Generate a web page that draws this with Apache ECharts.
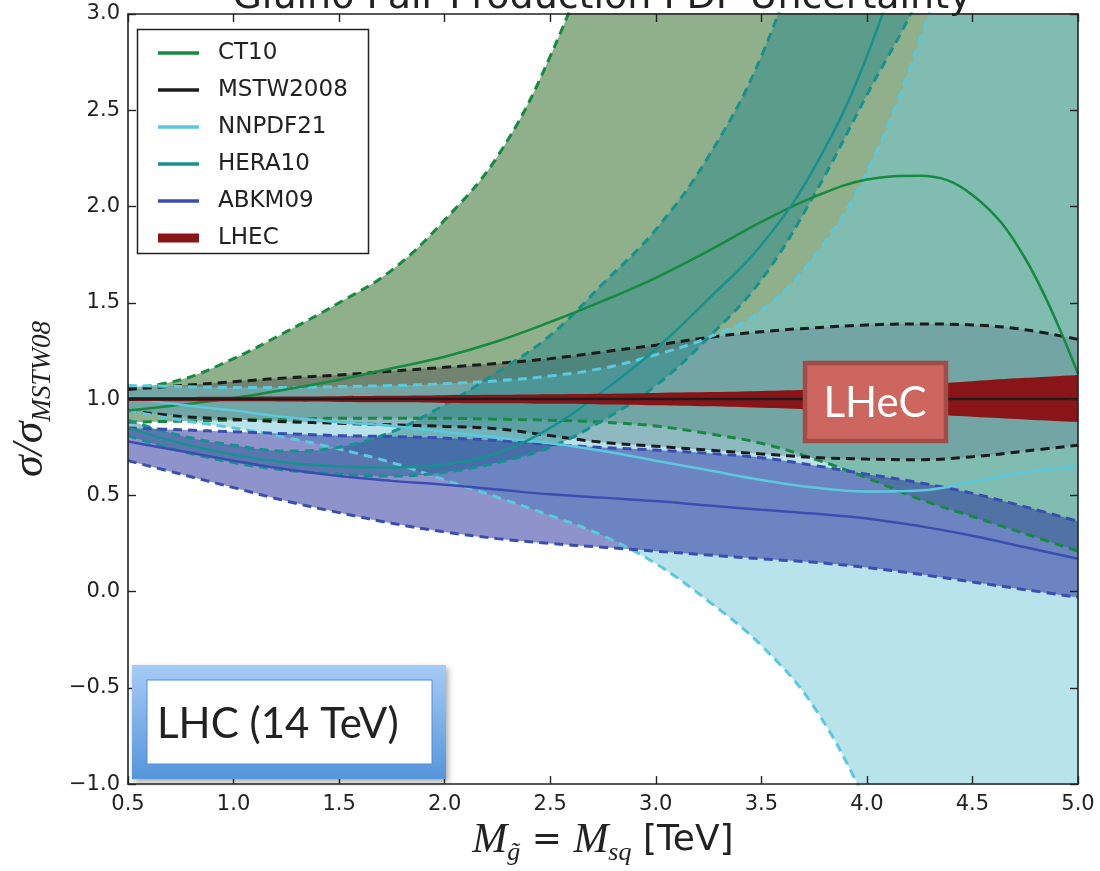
<!DOCTYPE html>
<html>
<head>
<meta charset="utf-8">
<script src="https://cdn.jsdelivr.net/npm/echarts@6/dist/echarts.min.js"></script>
<style>
  html, body { margin: 0; padding: 0; background: #fff; }
  #chart { width: 1100px; height: 871px; }
</style>
</head>
<body>
<div id="chart"></div>
<script>
// Gluino pair production: PDF uncertainty bands, ratio to MSTW2008 central value
const massTeV = [0.5, 0.75, 1.0, 1.25, 1.5, 1.75, 2.0, 2.25, 2.5, 2.75, 3.0, 3.25, 3.5, 3.75, 4.0, 4.25, 4.5, 4.75, 5.0];

const ct10Central = [0.94, 0.97, 1.005, 1.05, 1.10, 1.16, 1.22, 1.30, 1.40, 1.51, 1.63, 1.77, 1.92, 2.05, 2.14, 2.16, 2.06, 1.73, 1.13];
const ct10Upper   = [1.055, 1.10, 1.21, 1.35, 1.50, 1.67, 1.93, 2.26, 2.78, 3.5, 4.4, 5.3, 6.2, 7.1, 8.0, 8.9, 9.8, 10.7, 11.6];
const ct10Lower   = [0.88, 0.885, 0.89, 0.895, 0.90, 0.90, 0.90, 0.895, 0.89, 0.88, 0.86, 0.82, 0.77, 0.69, 0.59, 0.48, 0.39, 0.30, 0.21];

const mstwCentral = [1, 1, 1, 1, 1, 1, 1, 1, 1, 1, 1, 1, 1, 1, 1, 1, 1, 1, 1];
const mstwUpper   = [1.05, 1.07, 1.09, 1.11, 1.125, 1.145, 1.165, 1.185, 1.21, 1.245, 1.28, 1.32, 1.35, 1.37, 1.385, 1.39, 1.385, 1.36, 1.31];
const mstwLower   = [0.94, 0.91, 0.895, 0.882, 0.874, 0.866, 0.858, 0.845, 0.81, 0.775, 0.755, 0.735, 0.715, 0.697, 0.688, 0.685, 0.70, 0.73, 0.76];

const nnpdfCentral = [1.01, 0.97, 0.94, 0.905, 0.88, 0.86, 0.83, 0.80, 0.77, 0.73, 0.68, 0.63, 0.58, 0.54, 0.52, 0.525, 0.57, 0.62, 0.65];
const nnpdfUpper   = [1.07, 1.065, 1.06, 1.06, 1.065, 1.07, 1.08, 1.095, 1.12, 1.16, 1.23, 1.32, 1.46, 1.74, 2.18, 2.86, 3.7, 4.6, 5.5];
const nnpdfLower   = [0.94, 0.89, 0.85, 0.80, 0.74, 0.67, 0.58, 0.49, 0.395, 0.29, 0.145, -0.05, -0.28, -0.60, -1.10, -1.7, -2.4, -3.1, -3.8];

const heraCentral = [0.85, 0.77, 0.71, 0.67, 0.65, 0.645, 0.66, 0.72, 0.85, 1.04, 1.26, 1.52, 1.80, 2.20, 2.78, 3.6, 4.5, 5.4, 6.3];
const heraUpper   = [0.89, 0.81, 0.76, 0.73, 0.75, 0.83, 0.97, 1.14, 1.33, 1.60, 1.88, 2.26, 2.78, 3.55, 4.4, 5.3, 6.2, 7.1, 8.0];
const heraLower   = [0.81, 0.73, 0.67, 0.63, 0.61, 0.60, 0.62, 0.67, 0.75, 0.89, 1.07, 1.32, 1.62, 2.06, 2.58, 3.1, 3.8, 4.5, 5.2];

const abkmCentral = [0.78, 0.73, 0.68, 0.635, 0.60, 0.575, 0.555, 0.53, 0.505, 0.488, 0.47, 0.447, 0.425, 0.405, 0.38, 0.34, 0.29, 0.23, 0.17];
const abkmUpper   = [0.85, 0.84, 0.83, 0.82, 0.81, 0.805, 0.797, 0.785, 0.765, 0.748, 0.735, 0.718, 0.695, 0.655, 0.61, 0.565, 0.51, 0.44, 0.365];
const abkmLower   = [0.68, 0.61, 0.54, 0.47, 0.41, 0.355, 0.31, 0.275, 0.25, 0.23, 0.21, 0.19, 0.17, 0.152, 0.125, 0.09, 0.05, 0.01, -0.03];

const lhecUpper = [1.01, 1.011, 1.012, 1.013, 1.015, 1.017, 1.02, 1.022, 1.025, 1.028, 1.032, 1.036, 1.042, 1.05, 1.062, 1.076, 1.093, 1.11, 1.125];
const lhecLower = [0.99, 0.989, 0.988, 0.987, 0.985, 0.983, 0.98, 0.978, 0.975, 0.972, 0.968, 0.962, 0.955, 0.946, 0.935, 0.922, 0.908, 0.894, 0.88];

const yTicks = { min: -1.0, max: 3.0, step: 0.5 };

const SMOOTH = 0.4;
const widths = (hi, lo) => hi.map((v, i) => +(v - lo[i]).toFixed(4));

const pdfSets = [
  { name: 'CT10',     color: '#168a40', fill: 'rgb(31,97,21)',    central: ct10Central,  upper: ct10Upper,  lower: ct10Lower },
  { name: 'MSTW2008', color: '#1c1c1c', fill: 'rgb(85,85,85)',    central: mstwCentral,  upper: mstwUpper,  lower: mstwLower },
  { name: 'NNPDF21',  color: '#5cc8dd', fill: 'rgb(113,199,213)', central: nnpdfCentral, upper: nnpdfUpper, lower: nnpdfLower },
  { name: 'HERA10',   color: '#17918f', fill: 'rgb(41,136,138)',  central: heraCentral,  upper: heraUpper,  lower: heraLower },
  { name: 'ABKM09',   color: '#3a4eb2', fill: 'rgb(31,39,153)',   central: abkmCentral,  upper: abkmUpper,  lower: abkmLower }
];

const series = [];

// translucent uncertainty bands: invisible lower edge + stacked width carrying the fill
pdfSets.forEach(s => {
  series.push({
    type: 'line', name: s.name + ' lower edge', stack: s.name + '-band', stackStrategy: 'all',
    data: s.lower, smooth: SMOOTH, symbol: 'none', silent: true, z: 2,
    lineStyle: { opacity: 0 }
  });
  series.push({
    type: 'line', name: s.name + ' band', stack: s.name + '-band', stackStrategy: 'all',
    data: widths(s.upper, s.lower), smooth: SMOOTH, symbol: 'none', silent: true, z: 2,
    lineStyle: { opacity: 0 },
    areaStyle: { color: s.fill, opacity: 0.5 }
  });
});

// dashed band edges
pdfSets.forEach(s => {
  [s.upper, s.lower].forEach((edge, k) => {
    series.push({
      type: 'line', name: s.name + (k ? ' min' : ' max'),
      data: edge, smooth: SMOOTH, symbol: 'none', silent: true, z: 3,
      lineStyle: { color: s.color, width: 3, type: [9, 6] }
    });
  });
});

// central values
pdfSets.forEach(s => {
  if (s.name === 'MSTW2008') return;
  series.push({
    type: 'line', name: s.name, data: s.central, smooth: SMOOTH, symbol: 'none', z: 4,
    itemStyle: { color: s.color },
    lineStyle: { color: s.color, width: 2.5 }
  });
});

// LHeC projected band (opaque)
series.push({
  type: 'line', name: 'LHEC lower edge', stack: 'lhec-band', stackStrategy: 'all',
  data: lhecLower, smooth: SMOOTH, symbol: 'none', silent: true, z: 5,
  lineStyle: { opacity: 0 }
});
series.push({
  type: 'line', name: 'LHEC', stack: 'lhec-band', stackStrategy: 'all',
  data: widths(lhecUpper, lhecLower), smooth: SMOOTH, symbol: 'none', silent: true, z: 5,
  itemStyle: { color: '#8a1518' },
  lineStyle: { opacity: 0 },
  areaStyle: { color: '#8a1518', opacity: 1 }
});

// MSTW2008 reference line on top
series.push({
  type: 'line', name: 'MSTW2008', data: mstwCentral, symbol: 'none', z: 6,
  itemStyle: { color: '#1c1c1c' },
  lineStyle: { color: '#1c1c1c', width: 2.5 }
});

const tickFont = { fontFamily: 'DejaVu Sans', fontSize: 21, color: '#222' };
const fmtY = v => (v < 0 ? '\u2212' + Math.abs(v).toFixed(1) : v.toFixed(1));
const frameLine = { show: true, onZero: false, lineStyle: { color: '#222', width: 1.6 } };
const innerTicks = { show: true, inside: true, length: 8, lineStyle: { color: '#222', width: 1.4 } };
const xCategoryTicks = Object.assign({ interval: 1, alignWithLabel: true }, innerTicks);
const xLabels = massTeV.map(v => v.toFixed(1));

const chart = echarts.init(document.getElementById('chart'), null, { renderer: 'canvas' });

chart.setOption({
  animation: false,
  backgroundColor: '#fff',
  grid: { left: 125, right: 22, top: 14, bottom: 84 },
  xAxis: [
    {
      type: 'category', data: xLabels, boundaryGap: false, z: 10,
      axisLine: frameLine, axisTick: xCategoryTicks, splitLine: { show: false },
      axisLabel: Object.assign({ margin: 10, interval: 1 }, tickFont),
      name: '{it|M}{sub|g\u0303}{op| = }{it|M}{sub|sq}{rm| [TeV]}',
      nameLocation: 'middle', nameGap: 30,
      nameTextStyle: {
        rich: {
          it: { fontFamily: 'Liberation Serif', fontStyle: 'italic', fontSize: 42, lineHeight: 50, color: '#222' },
          sub: { fontFamily: 'Liberation Serif', fontStyle: 'italic', fontSize: 26, lineHeight: 22, verticalAlign: 'bottom', color: '#222' },
          op: { fontFamily: 'DejaVu Sans', fontSize: 36, lineHeight: 50, color: '#222' },
          rm: { fontFamily: 'DejaVu Sans', fontSize: 36, lineHeight: 50, color: '#222' }
        }
      }
    },
    {
      type: 'category', data: xLabels, boundaryGap: false, position: 'top', z: 10,
      axisLine: frameLine, axisTick: xCategoryTicks, axisLabel: { show: false }, splitLine: { show: false }
    }
  ],
  yAxis: [
    {
      type: 'value', min: yTicks.min, max: yTicks.max, interval: yTicks.step, z: 10,
      axisLine: frameLine, axisTick: innerTicks, splitLine: { show: false },
      axisLabel: Object.assign({ margin: 8, formatter: fmtY }, tickFont),
      name: '{s|\u03c3/\u03c3}{sub|MSTW08}',
      nameLocation: 'middle', nameGap: 72,
      nameTextStyle: {
        rich: {
          s: { fontFamily: 'Liberation Serif', fontStyle: 'italic', fontSize: 44, lineHeight: 52, color: '#222' },
          sub: { fontFamily: 'Liberation Serif', fontStyle: 'italic', fontSize: 27, lineHeight: 22, verticalAlign: 'bottom', color: '#222' }
        }
      }
    },
    {
      type: 'value', position: 'right', min: yTicks.min, max: yTicks.max, interval: yTicks.step, z: 10,
      axisLine: frameLine, axisTick: innerTicks, axisLabel: { show: false }, splitLine: { show: false }
    }
  ],
  legend: [
    {
      data: ['CT10', 'MSTW2008', 'NNPDF21', 'HERA10', 'ABKM09'].map(n => ({ name: n, icon: 'rect' })),
      orient: 'vertical', left: 153, top: 35, itemWidth: 41, itemHeight: 3.5, itemGap: 11,
      selectedMode: false, z: 6,
      textStyle: { fontFamily: 'DejaVu Sans', fontSize: 23, lineHeight: 26, color: '#222', padding: [0, 0, 0, 14] }
    },
    {
      data: [{ name: 'LHEC', icon: 'rect' }],
      orient: 'vertical', left: 153, top: 220, itemWidth: 41, itemHeight: 9,
      selectedMode: false, z: 6,
      textStyle: { fontFamily: 'DejaVu Sans', fontSize: 23, lineHeight: 26, color: '#222', padding: [0, 0, 0, 14] }
    }
  ],
  graphic: [
    {
      type: 'text', x: 602, y: 17, z: 20,
      style: { text: 'Gluino Pair Production PDF Uncertainty', fontFamily: 'DejaVu Sans', fontSize: 38,
               fill: '#222', align: 'center', verticalAlign: 'bottom' }
    },
    {
      type: 'rect', z: 5, shape: { x: 137.5, y: 29.5, width: 231, height: 224 },
      style: { fill: '#fff', stroke: '#222', lineWidth: 1.5 }
    },
    {
      type: 'rect', z: 30, shape: { x: 805, y: 363, width: 141, height: 78 },
      style: { fill: '#cc665f', stroke: '#a24c47', lineWidth: 4.5 }
    },
    {
      type: 'text', z: 31, x: 875, y: 403,
      style: { text: 'LHeC', fontFamily: 'Lato', fontSize: 42, fill: '#fff', align: 'center', verticalAlign: 'middle' }
    },
    {
      type: 'rect', z: 30, shape: { x: 132, y: 665, width: 314, height: 114 },
      style: {
        fill: { type: 'linear', x: 0, y: 0, x2: 0, y2: 1,
                colorStops: [{ offset: 0, color: '#a6cbf6' }, { offset: 1, color: '#5595da' }] },
        shadowBlur: 6, shadowOffsetX: 2, shadowOffsetY: 3, shadowColor: 'rgba(0,0,0,0.35)'
      }
    },
    {
      type: 'rect', z: 31, shape: { x: 147, y: 680, width: 285, height: 84 },
      style: { fill: '#fff', stroke: '#4f8fd6', lineWidth: 1 }
    },
    {
      type: 'text', z: 32, x: 157, y: 724,
      style: { text: 'LHC (14 TeV)', fontFamily: 'Lato', fontSize: 42, fill: '#222', align: 'left', verticalAlign: 'middle' }
    }
  ],
  series: series
});
</script>
</body>
</html>
